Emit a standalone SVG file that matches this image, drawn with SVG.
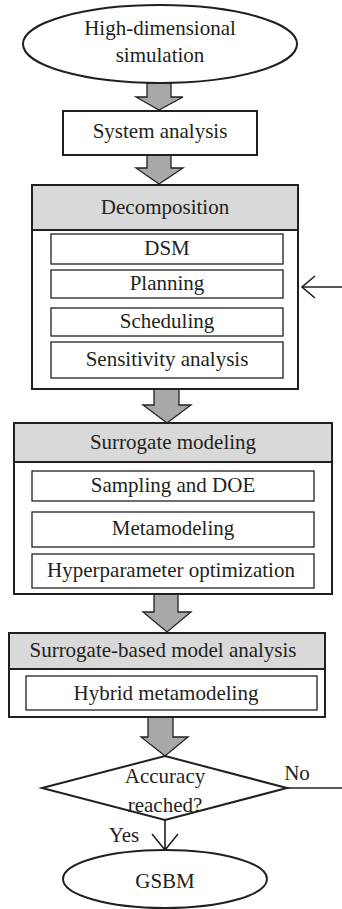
<svg xmlns="http://www.w3.org/2000/svg" width="342" height="909" viewBox="0 0 342 909">
<style>
text{font-family:"Liberation Serif","Times New Roman",serif;font-size:21px;fill:#231f20;text-anchor:middle}
.outer{fill:#fff;stroke:#231f20;stroke-width:2}
.hdr{fill:#d9d9d9;stroke:#231f20;stroke-width:2}
.inner{fill:#fff;stroke:#231f20;stroke-width:1.3}
.garrow{fill:#a8a8a8;stroke:#231f20;stroke-width:1.3;stroke-linejoin:miter}
.line{fill:none;stroke:#231f20;stroke-width:1.6}
</style>
<rect width="342" height="909" fill="#fff"/>
<g id="connectors">
<polygon class="garrow" points="147,83 171,83 171,97 183,97 159,110 136,97 147,97"/>
<polygon class="garrow" points="147,155 171,155 171,168 183,168 159,184 136,168 147,168"/>
<polygon class="garrow" points="154,389 179,389 179,405 191,405 167,423 143,405 154,405"/>
<polygon class="garrow" points="154,594 178,594 178,612 191,612 167,632 143,612 154,612"/>
<polygon class="garrow" points="148,717 173,717 173,737 188,737 165,756 141,737 148,737"/>
<path class="line" d="M342,287 H302 M315,276 L302,287 L315,298"/>
<path class="line" d="M287,788 H342"/>
<path class="line" d="M165,820 V850 M152,834 L165,850 L178,834"/>
<text x="297" y="780">No</text>
<text x="124" y="842">Yes</text>
</g>
<g id="start">
<ellipse cx="160" cy="44" rx="137" ry="39" class="outer"/>
<text x="160" y="35">High-dimensional</text>
<text x="160" y="62">simulation</text>
</g>
<g id="system-analysis">
<rect x="63" y="111" width="194" height="44" class="outer"/>
<text x="160" y="138">System analysis</text>
</g>
<g id="decomposition">
<rect x="32" y="185" width="266" height="204" class="outer"/>
<rect x="32" y="185" width="266" height="45" class="hdr"/>
<text x="165" y="214">Decomposition</text>
<rect x="51" y="234" width="232" height="30" class="inner"/>
<text x="167" y="255">DSM</text>
<rect x="51" y="270" width="232" height="28" class="inner"/>
<text x="167" y="290">Planning</text>
<rect x="51" y="308" width="232" height="28" class="inner"/>
<text x="167" y="328">Scheduling</text>
<rect x="51" y="342" width="232" height="36" class="inner"/>
<text x="167" y="366">Sensitivity analysis</text>
</g>
<g id="surrogate-modeling">
<rect x="14" y="423" width="318" height="171" class="outer"/>
<rect x="14" y="423" width="318" height="39" class="hdr"/>
<text x="173" y="449">Surrogate modeling</text>
<rect x="32" y="471" width="282" height="30" class="inner"/>
<text x="173" y="492">Sampling and DOE</text>
<rect x="32" y="512" width="282" height="35" class="inner"/>
<text x="173" y="535">Metamodeling</text>
<rect x="32" y="554" width="282" height="34" class="inner"/>
<text x="171" y="577">Hyperparameter optimization</text>
</g>
<g id="surrogate-based-analysis">
<rect x="9" y="633" width="316" height="84" class="outer"/>
<rect x="9" y="633" width="316" height="36" class="hdr"/>
<text x="163" y="657">Surrogate-based model analysis</text>
<rect x="26" y="676" width="291" height="34" class="inner"/>
<text x="166" y="700">Hybrid metamodeling</text>
</g>
<g id="accuracy">
<polygon points="165,756 287,788 165,820 42,788" fill="#fff" stroke="#231f20" stroke-width="2"/>
<text x="165" y="783">Accuracy</text>
<text x="165" y="812">reached?</text>
</g>
<g id="gsbm">
<ellipse cx="165" cy="879" rx="102" ry="29" class="outer"/>
<text x="165" y="888">GSBM</text>
</g>
</svg>
